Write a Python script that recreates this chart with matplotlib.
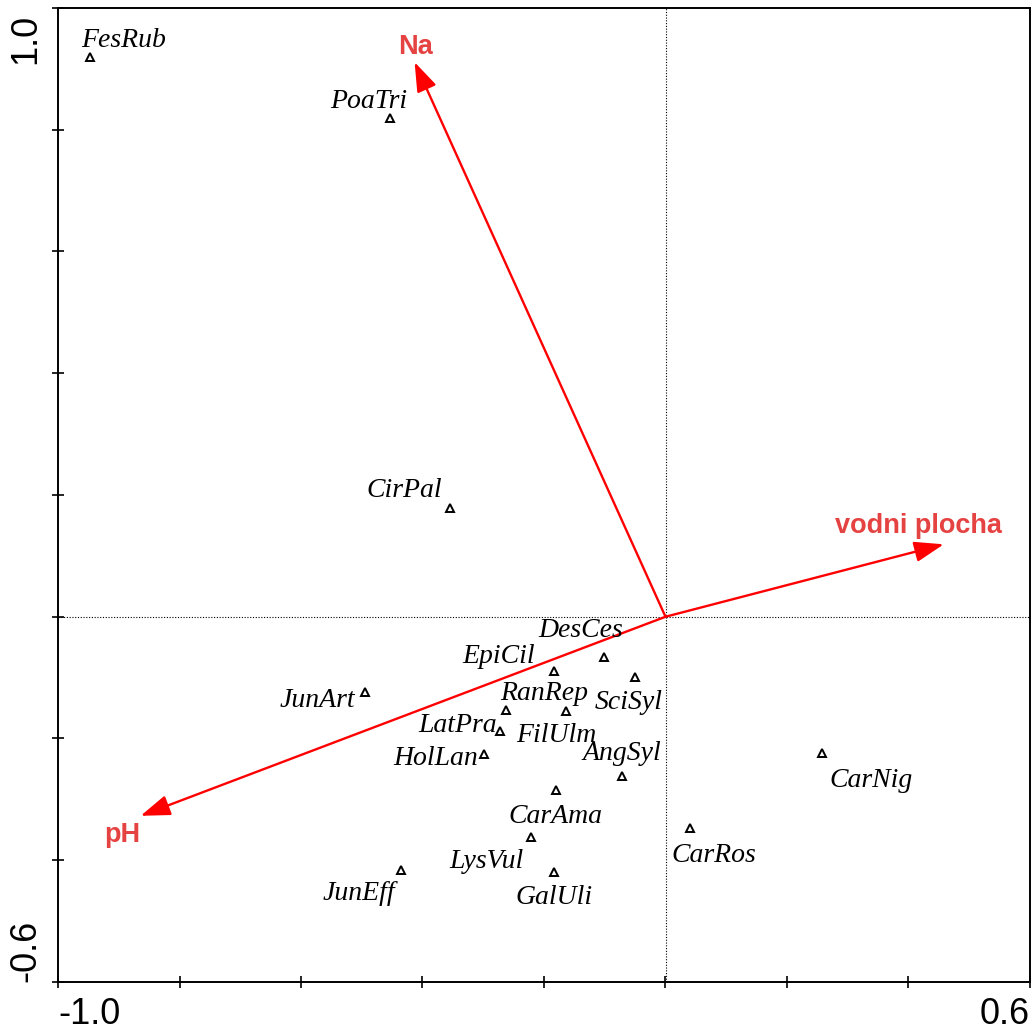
import numpy as np
import matplotlib
matplotlib.use("Agg")
import matplotlib.pyplot as plt
import matplotlib.transforms as mtransforms

# species scores (axis 1, axis 2)
species = ["FesRub", "PoaTri", "CirPal", "DesCes", "EpiCil", "SciSyl", "JunArt",
           "RanRep", "FilUlm", "LatPra", "HolLan", "AngSyl", "CarNig", "CarAma",
           "CarRos", "LysVul", "GalUli", "JunEff"]
sp_x = [-0.948, -0.453, -0.354, -0.102, -0.184, -0.051, -0.494,
        -0.263, -0.163, -0.273, -0.298, -0.071, 0.257, -0.181,
        0.041, -0.222, -0.183, -0.435]
sp_y = [0.920, 0.819, 0.179, -0.066, -0.089, -0.099, -0.124,
        -0.153, -0.155, -0.188, -0.226, -0.261, -0.224, -0.284,
        -0.347, -0.361, -0.419, -0.416]

# environmental variables (arrow tips)
env = ["Na", "vodni plocha", "pH"]
env_x = [-0.413, 0.458, -0.864]
env_y = [0.911, 0.119, -0.327]

# label offsets in pixels (layout only)
sp_off = {"FesRub": (34, 16), "PoaTri": (-22, 17), "CirPal": (-46, 17),
          "DesCes": (-23, 26), "EpiCil": (-55, 14), "RanRep": (38, 16),
          "SciSyl": (-6, -25), "JunArt": (-48, -8), "LatPra": (-42, 6),
          "FilUlm": (-10, -24), "HolLan": (-49, -4), "AngSyl": (0, 22),
          "CarNig": (49, -27), "CarAma": (0, -27), "CarRos": (23, -28),
          "LysVul": (-44, -25), "GalUli": (0, -26), "JunEff": (-42, -24)}
env_off = {"Na": (1, 15), "vodni plocha": (-25, 18), "pH": (-18, -19)}

fig = plt.figure(figsize=(10.33, 10.31), dpi=100)
ax = fig.add_axes([58/1033, 1-982/1031, 972/1033, 974/1031])
ax.set_xlim(-1.0, 0.6)
ax.set_ylim(-0.6, 1.0)

ax.axhline(0, color="black", lw=0.8, ls=(0, (1, 1.5)), zorder=1)
ax.axvline(0, color="black", lw=0.8, ls=(0, (1, 1.5)), zorder=1)

for name, x, y in zip(env, env_x, env_y):
    ax.annotate("", xy=(x, y), xytext=(0, 0),
                arrowprops=dict(arrowstyle="-|>,head_length=1.0,head_width=0.35",
                                color="red", lw=1.7, mutation_scale=18,
                                shrinkA=0, shrinkB=0), zorder=2)
    ax.annotate(name, xy=(x, y), xytext=env_off[name], textcoords="offset pixels",
                ha="center", va="center", color="#e54242", fontsize=19.5,
                fontweight="bold", family="Liberation Sans")

ax.plot(sp_x, sp_y, ls="none", marker="^", ms=6, mfc="white", mec="black",
        mew=1.4, zorder=3)
for name, x, y in zip(species, sp_x, sp_y):
    ax.annotate(name, xy=(x, y), xytext=sp_off[name], textcoords="offset pixels",
                ha="center", va="center", fontsize=20, style="italic",
                family="Liberation Serif")

ticks = np.arange(-1.0, 0.61, 0.2)
ax.set_xticks(ticks)
ax.set_xticklabels(["-1.0"] + [""] * (len(ticks) - 2) + ["0.6"])
yt = np.arange(-0.6, 1.01, 0.2)
ax.set_yticks(yt)
ax.set_yticklabels(["-0.6"] + [""] * (len(yt) - 2) + ["1.0"], rotation=90)
ax.tick_params(direction="inout", length=9, width=1.2, labelsize=26, pad=6)
for lab in ax.get_xticklabels() + ax.get_yticklabels():
    lab.set_family("Liberation Sans")
xl = ax.get_xticklabels()
xl[0].set_ha("left")
xl[-1].set_ha("right")
yl = ax.get_yticklabels()
yl[0].set_va("bottom")
yl[-1].set_va("top")
yl[-1].set_transform(yl[-1].get_transform() +
                     mtransforms.ScaledTranslation(0, -6/100, fig.dpi_scale_trans))
for s in ax.spines.values():
    s.set_linewidth(1.4)

fig.savefig("out.png", dpi=100)
